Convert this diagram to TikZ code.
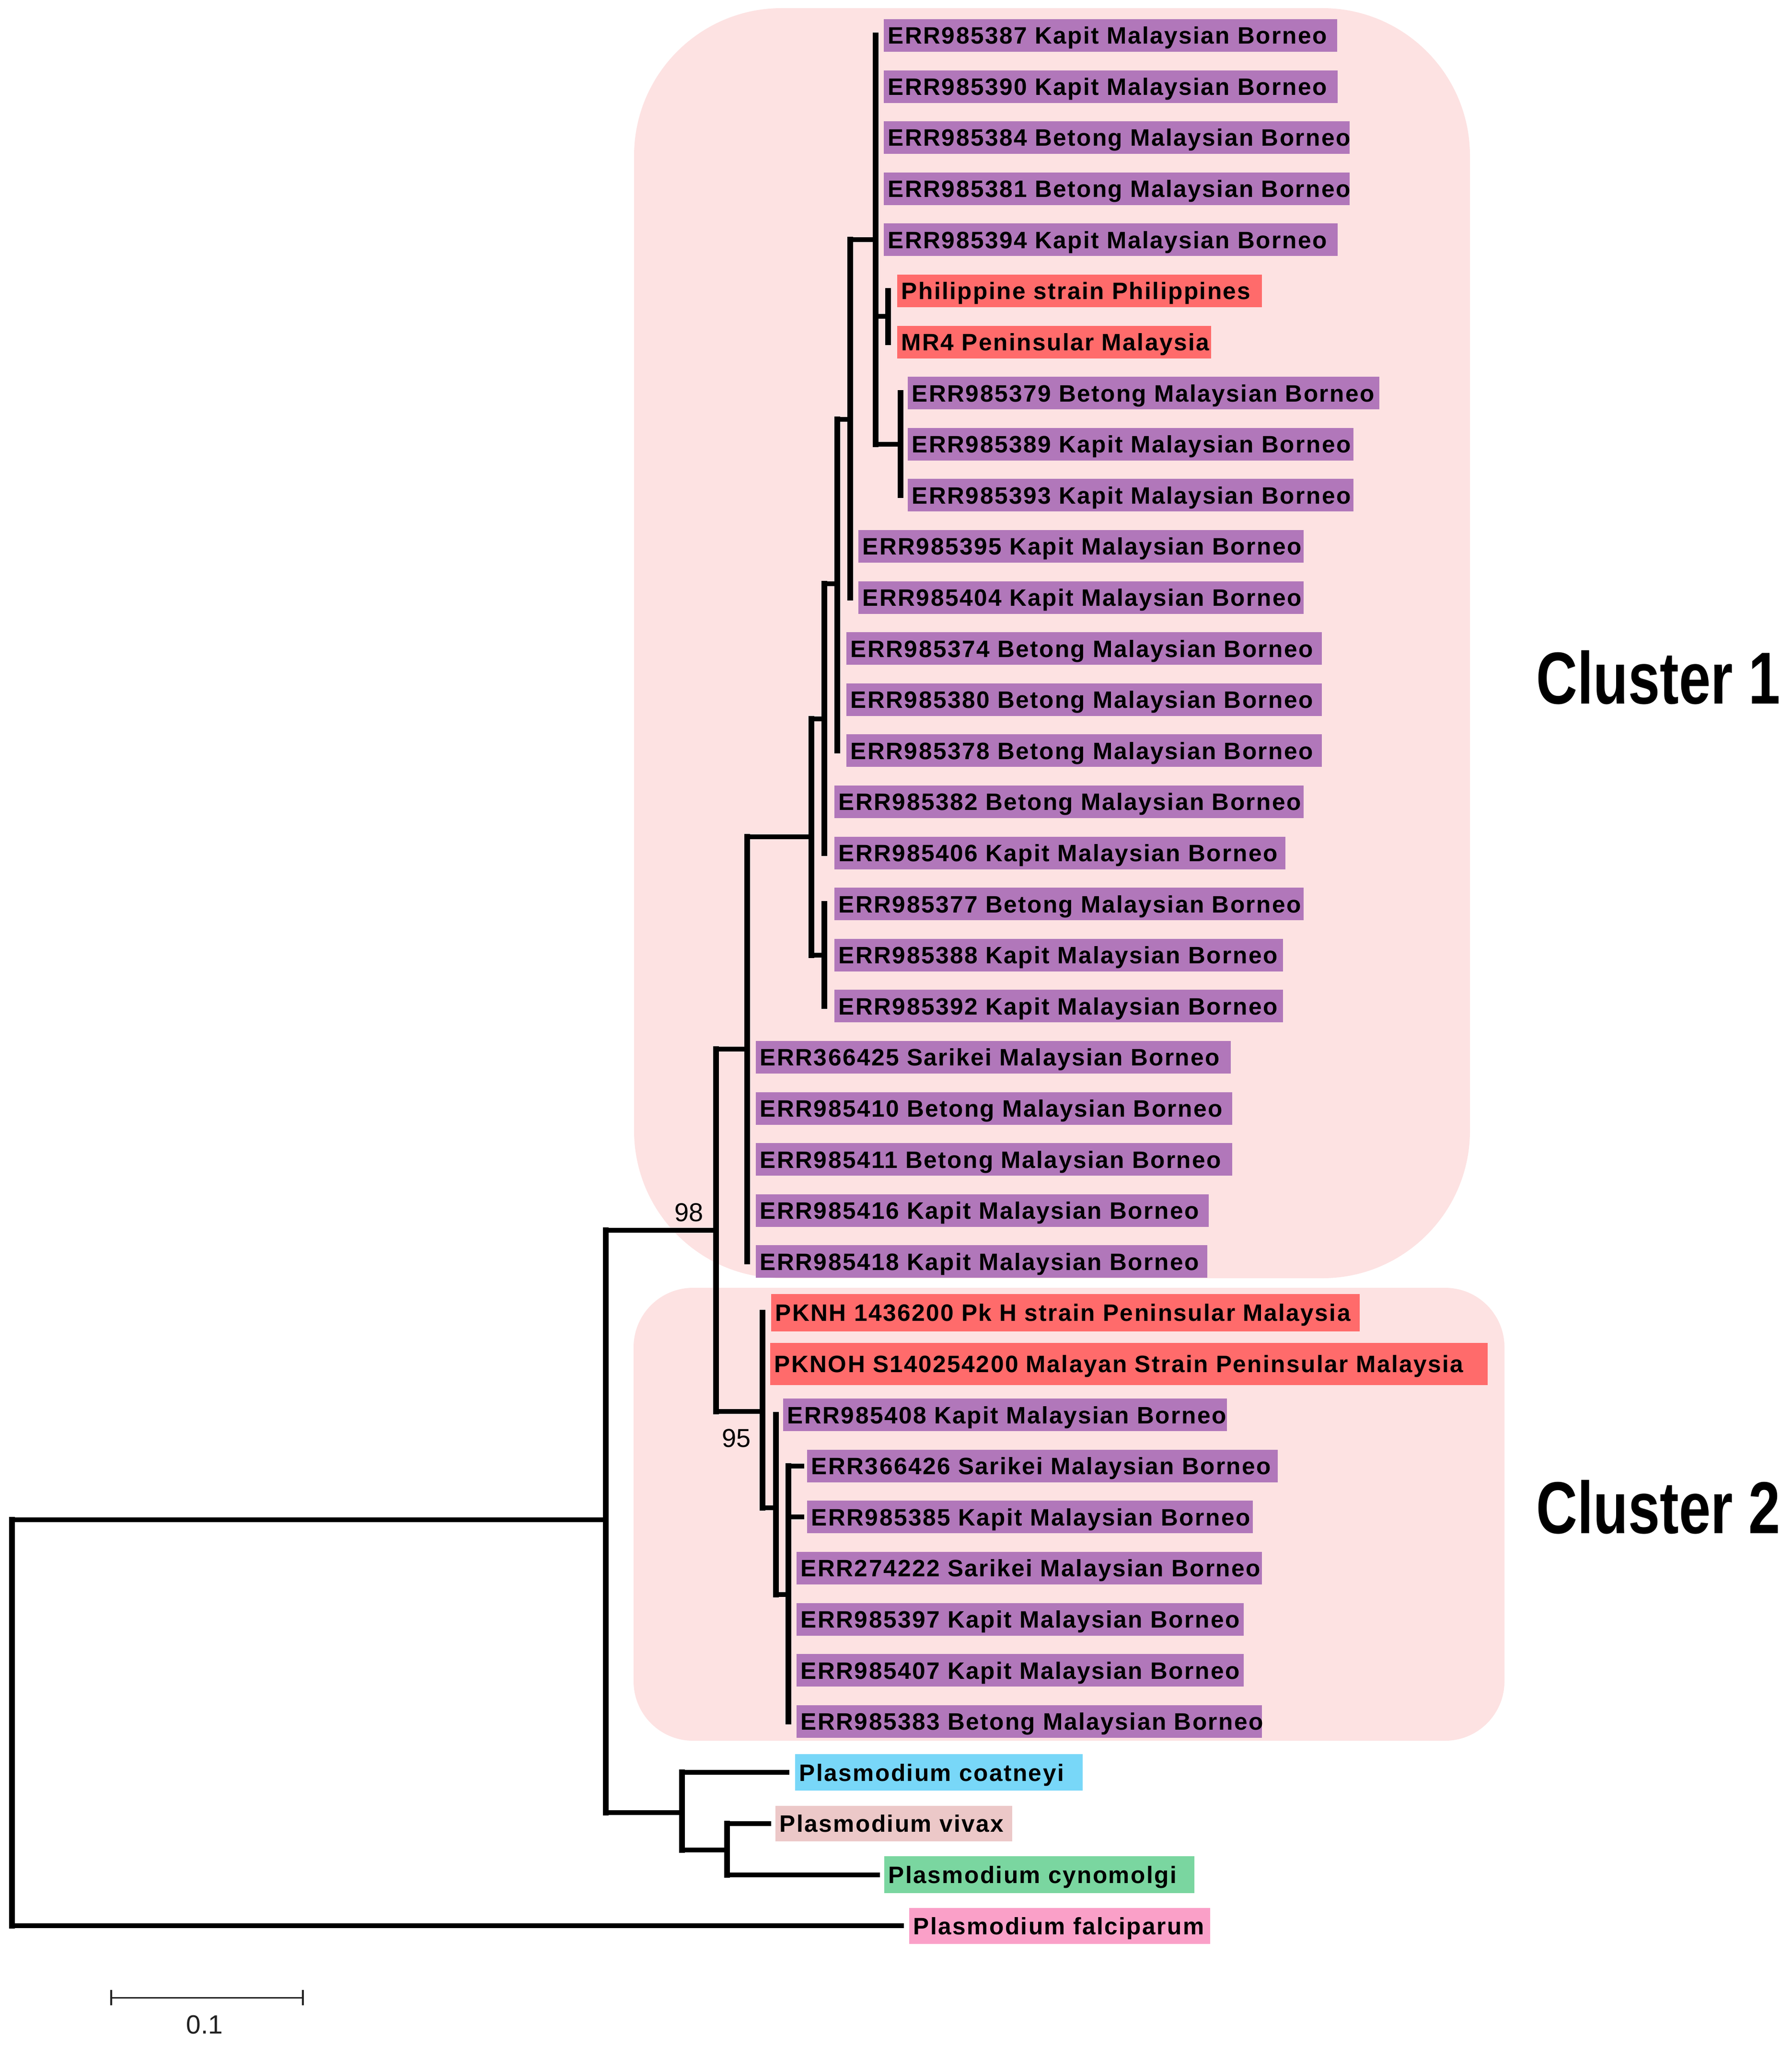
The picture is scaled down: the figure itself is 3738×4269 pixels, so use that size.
\documentclass[tikz,border=0pt]{standalone}
\usepackage{fontspec}
\usepackage{graphicx}
\setmainfont{Liberation Sans}
\newfontfamily\labfont[LetterSpace=5.0]{Liberation Sans}
\definecolor{clus}{RGB}{253,226,226}
\definecolor{purp}{RGB}{177,119,186}
\definecolor{redb}{RGB}{255,107,107}
\definecolor{cyanb}{RGB}{120,215,248}
\definecolor{vivb}{RGB}{236,200,200}
\definecolor{greenb}{RGB}{122,214,160}
\definecolor{pinkb}{RGB}{250,160,200}
\definecolor{sbar}{RGB}{34,34,34}
\newcommand\mkleaf[7]{%
  \pgfmathsetmacro\lfw{(#4-#3)*0.25-4.5}%
  \pgfmathsetmacro\lfh{#6*0.25}%
  \node[leafbox, fill=#2, minimum height=\lfh pt] (#1) at (#3,#5) {\makebox[\lfw pt][l]{#7}};}
\begin{document}
\begin{tikzpicture}[x=0.25pt,y=-0.25pt,
  vline/.style={line width=3pt, line cap=rect},
  hline/.style={line width=2.5pt},
  leafbox/.style={anchor=west, inner xsep=2.25pt, inner ysep=0pt, text height=8.9pt, text depth=0pt, font=\labfont\bfseries\fontsize{12.4}{14}\selectfont},
  boot/.style={font=\fontsize{13.5}{15}\selectfont, inner sep=0pt},
  clustertitle/.style={anchor=base west, inner sep=0pt, font=\bfseries\fontsize{38.4}{40}\selectfont}]
\useasboundingbox (0,0) rectangle (3738,4269);
\fill[white] (0,0) rectangle (3738,4269);
% cluster backgrounds
\fill[clus, rounded corners=77pt] (1323,17) rectangle (3067,2667);
\fill[clus, rounded corners=31pt] (1322,2687) rectangle (3139,3632);
% leaves
\mkleaf{l1}{purp}{1843}{2789}{74}{68}{ERR985387 Kapit Malaysian Borneo}
\mkleaf{l2}{purp}{1843}{2790}{180.6}{68}{ERR985390 Kapit Malaysian Borneo}
\mkleaf{l3}{purp}{1843}{2815}{287.2}{68}{ERR985384 Betong Malaysian Borneo}
\mkleaf{l4}{purp}{1843}{2815}{393.8}{68}{ERR985381 Betong Malaysian Borneo}
\mkleaf{l5}{purp}{1843}{2790}{500.4}{68}{ERR985394 Kapit Malaysian Borneo}
\mkleaf{l6}{redb}{1871}{2632}{607}{68}{Philippine strain Philippines}
\mkleaf{l7}{redb}{1871}{2526}{713.6}{68}{MR4 Peninsular Malaysia}
\mkleaf{l8}{purp}{1893}{2877}{820.2}{68}{ERR985379 Betong Malaysian Borneo}
\mkleaf{l9}{purp}{1893}{2823}{926.8}{68}{ERR985389 Kapit Malaysian Borneo}
\mkleaf{l10}{purp}{1893}{2823}{1033.4}{68}{ERR985393 Kapit Malaysian Borneo}
\mkleaf{l11}{purp}{1790}{2719}{1140}{68}{ERR985395 Kapit Malaysian Borneo}
\mkleaf{l12}{purp}{1790}{2719}{1246.6}{68}{ERR985404 Kapit Malaysian Borneo}
\mkleaf{l13}{purp}{1765}{2757}{1353.2}{68}{ERR985374 Betong Malaysian Borneo}
\mkleaf{l14}{purp}{1765}{2757}{1459.8}{68}{ERR985380 Betong Malaysian Borneo}
\mkleaf{l15}{purp}{1765}{2757}{1566.4}{68}{ERR985378 Betong Malaysian Borneo}
\mkleaf{l16}{purp}{1740}{2719}{1673}{68}{ERR985382 Betong Malaysian Borneo}
\mkleaf{l17}{purp}{1740}{2681}{1779.6}{68}{ERR985406 Kapit Malaysian Borneo}
\mkleaf{l18}{purp}{1740}{2719}{1886.2}{68}{ERR985377 Betong Malaysian Borneo}
\mkleaf{l19}{purp}{1740}{2676}{1992.8}{68}{ERR985388 Kapit Malaysian Borneo}
\mkleaf{l20}{purp}{1740}{2676}{2099.4}{68}{ERR985392 Kapit Malaysian Borneo}
\mkleaf{l21}{purp}{1576}{2567}{2206}{68}{ERR366425 Sarikei Malaysian Borneo}
\mkleaf{l22}{purp}{1576}{2570}{2312.6}{68}{ERR985410 Betong Malaysian Borneo}
\mkleaf{l23}{purp}{1576}{2570}{2419.2}{68}{ERR985411 Betong Malaysian Borneo}
\mkleaf{l24}{purp}{1576}{2521}{2525.8}{68}{ERR985416 Kapit Malaysian Borneo}
\mkleaf{l25}{purp}{1576}{2518}{2632.4}{68}{ERR985418 Kapit Malaysian Borneo}
\mkleaf{l26}{redb}{1608}{2836}{2739}{78}{PKNH 1436200 Pk H strain Peninsular Malaysia}
\mkleaf{l27}{redb}{1606}{3103}{2845.6}{88}{PKNOH S140254200 Malayan Strain Peninsular Malaysia}
\mkleaf{l28}{purp}{1633}{2559}{2952.2}{68}{ERR985408 Kapit Malaysian Borneo}
\mkleaf{l29}{purp}{1683}{2665}{3058.8}{68}{ERR366426 Sarikei Malaysian Borneo}
\mkleaf{l30}{purp}{1683}{2613}{3165.4}{68}{ERR985385 Kapit Malaysian Borneo}
\mkleaf{l31}{purp}{1661}{2632}{3272}{68}{ERR274222 Sarikei Malaysian Borneo}
\mkleaf{l32}{purp}{1661}{2594}{3378.6}{68}{ERR985397 Kapit Malaysian Borneo}
\mkleaf{l33}{purp}{1661}{2594}{3485.2}{68}{ERR985407 Kapit Malaysian Borneo}
\mkleaf{l34}{purp}{1661}{2632}{3591.8}{68}{ERR985383 Betong Malaysian Borneo}
\mkleaf{l35}{cyanb}{1658}{2258}{3698.4}{76}{Plasmodium coatneyi}
\mkleaf{l36}{vivb}{1617}{2111}{3805}{74}{Plasmodium vivax}
\mkleaf{l37}{greenb}{1844}{2491}{3911.6}{77}{Plasmodium cynomolgi}
\mkleaf{l38}{pinkb}{1896}{2524}{4018.2}{75}{Plasmodium falciparum}
% internal nodes
\coordinate (root) at (25,3171);
\coordinate (nin) at (1264,3171);
\coordinate (nout) at (1423,3782);
\coordinate (nvc) at (1517,3860);
\coordinate (n98) at (1494,2567);
\coordinate (nc1) at (1559,2189);
\coordinate (na) at (1693,1746);
\coordinate (nb) at (1720,1500);
\coordinate (ne) at (1720,1993);
\coordinate (nc) at (1747,1218);
\coordinate (nd) at (1774,875);
\coordinate (ntop) at (1827,500);
\coordinate (nph) at (1853,660);
\coordinate (n3) at (1879,927);
\coordinate (nc2) at (1591,2945);
\coordinate (nf) at (1619,3146);
\coordinate (ng) at (1645,3327);
% verticals
\draw[vline] (root |- nin) -- (root |- l38);
\draw[vline] (nin |- n98) -- (nin |- nout);
\draw[vline] (nout |- l35) -- (nout |- nvc);
\draw[vline] (nvc |- l36) -- (nvc |- l37);
\draw[vline] (n98 |- nc1) -- (n98 |- nc2);
\draw[vline] (nc1 |- na) -- (nc1 |- l25);
\draw[vline] (na |- nb) -- (na |- ne);
\draw[vline] (nb |- nc) -- (nb |- l17);
\draw[vline] (ne |- l18) -- (ne |- l20);
\draw[vline] (nc |- nd) -- (nc |- l15);
\draw[vline] (nd |- ntop) -- (nd |- l12);
\draw[vline] (ntop |- l1) -- (ntop |- n3);
\draw[vline] (nph |- l6) -- (nph |- l7);
\draw[vline] (n3 |- l8) -- (n3 |- l10);
\draw[vline] (nc2 |- l26) -- (nc2 |- nf);
\draw[vline] (nf |- l28) -- (nf |- ng);
\draw[vline] (ng |- l29) -- (ng |- l34);
% horizontals
\draw[hline] (root) -- (nin);
\draw[hline] (nin |- nout) -- (nout);
\draw[hline] (nout |- nvc) -- (nvc);
\draw[hline] (nin |- n98) -- (n98);
\draw[hline] (n98 |- nc1) -- (nc1);
\draw[hline] (nc1 |- na) -- (na);
\draw[hline] (na |- nb) -- (nb);
\draw[hline] (na |- ne) -- (ne);
\draw[hline] (nb |- nc) -- (nc);
\draw[hline] (nc |- nd) -- (nd);
\draw[hline] (nd |- ntop) -- (ntop);
\draw[hline] (ntop |- nph) -- (nph);
\draw[hline] (ntop |- n3) -- (n3);
\draw[hline] (n98 |- nc2) -- (nc2);
\draw[hline] (nc2 |- nf) -- (nf);
\draw[hline] (nf |- ng) -- (ng);
\draw[hline] (ng |- l29) -- ([xshift=-1.25pt]l29.west);
\draw[hline] (ng |- l30) -- ([xshift=-1.25pt]l30.west);
\draw[hline] (nout |- l35) -- ([xshift=-2.75pt]l35.west);
\draw[hline] (nvc |- l36) -- ([xshift=-2pt]l36.west);
\draw[hline] (nvc |- l37) -- ([xshift=-2pt]l37.west);
\draw[hline] (root |- l38) -- ([xshift=-2.5pt]l38.west);
% bootstrap values
\node[boot, anchor=base east] (bs98) at (1468,2548) {98};
\node[boot, anchor=base east] (bs95) at (1567,3019) {95};
% cluster titles
\node[clustertitle] (cl1) at (3205,1468) {\scalebox{0.775}[1]{Cluster 1}};
\node[clustertitle] (cl2) at (3205,3199) {\scalebox{0.775}[1]{Cluster 2}};
% scale bar
\coordinate (sbl) at (232,4168);
\coordinate (sbr) at (632,4168);
\draw[sbar, line width=0.75pt] (sbl) -- (sbr);
\draw[sbar, line width=1pt] ([yshift=4pt]sbl) -- ([yshift=-4pt]sbl);
\draw[sbar, line width=1pt] ([yshift=4pt]sbr) -- ([yshift=-4pt]sbr);
\node[anchor=base west, inner sep=0pt, text=sbar, font=\fontsize{13.75}{15}\selectfont] (sbt) at (388,4243) {0.1};
\end{tikzpicture}
\end{document}
